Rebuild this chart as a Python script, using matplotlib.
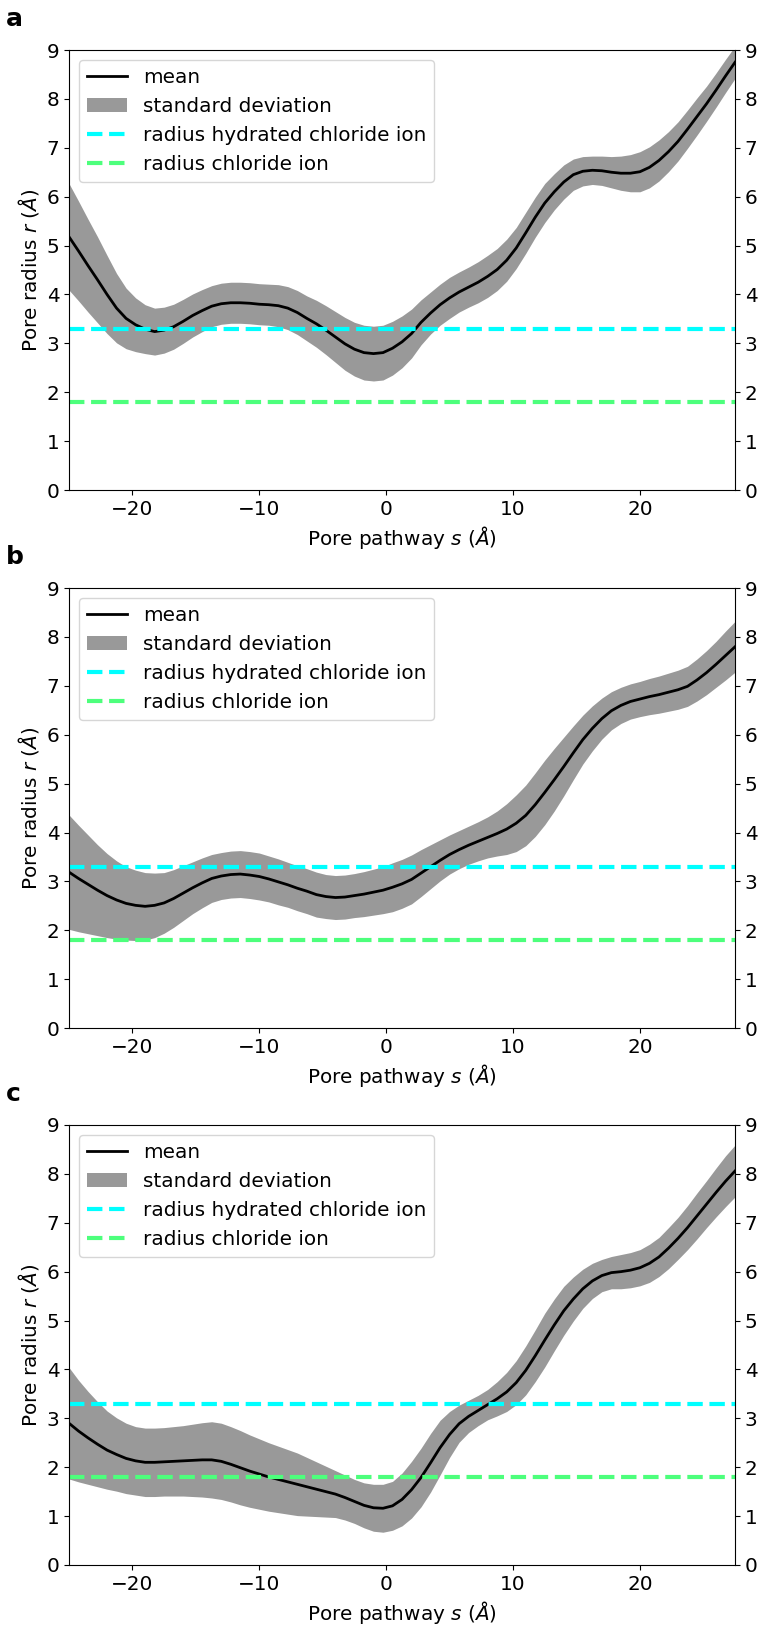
import numpy as np
import matplotlib
matplotlib.use("Agg")
import matplotlib.pyplot as plt

plt.rcParams["font.size"] = 14.4

# pore pathway coordinate s (Angstrom), sampled every 0.75 A, shared by all panels
s = [-25.0, -24.25, -23.5, -22.75, -22.0, -21.25, -20.5, -19.75, -19.0,
     -18.25, -17.5, -16.75, -16.0, -15.25, -14.5, -13.75, -13.0, -12.25,
     -11.5, -10.75, -10.0, -9.25, -8.5, -7.75, -7.0, -6.25, -5.5, -4.75,
     -4.0, -3.25, -2.5, -1.75, -1.0, -0.25, 0.5, 1.25, 2.0, 2.75, 3.5, 4.25,
     5.0, 5.75, 6.5, 7.25, 8.0, 8.75, 9.5, 10.25, 11.0, 11.75, 12.5, 13.25,
     14.0, 14.75, 15.5, 16.25, 17.0, 17.75, 18.5, 19.25, 20.0, 20.75, 21.5,
     22.25, 23.0, 23.75, 24.5, 25.25, 26.0, 26.75, 27.5]

mean_a = [5.18, 4.89, 4.59, 4.30, 4.00, 3.72, 3.51, 3.38, 3.29, 3.24, 3.27,
          3.34, 3.45, 3.57, 3.67, 3.76, 3.81, 3.83, 3.83, 3.82, 3.80, 3.79,
          3.77, 3.72, 3.63, 3.51, 3.40, 3.27, 3.13, 2.99, 2.88, 2.81, 2.79,
          2.81, 2.90, 3.03, 3.20, 3.43, 3.62, 3.79, 3.93, 4.05, 4.15, 4.25,
          4.37, 4.51, 4.70, 4.95, 5.26, 5.58, 5.87, 6.10, 6.30, 6.45, 6.52,
          6.54, 6.53, 6.50, 6.48, 6.48, 6.51, 6.60, 6.74, 6.92, 7.13, 7.38,
          7.64, 7.90, 8.18, 8.47, 8.75]
std_a = [1.09, 1.02, 0.95, 0.88, 0.80, 0.71, 0.62, 0.55, 0.50, 0.48, 0.47,
         0.46, 0.45, 0.44, 0.43, 0.42, 0.42, 0.42, 0.42, 0.42, 0.42, 0.42,
         0.43, 0.44, 0.45, 0.46, 0.48, 0.50, 0.52, 0.54, 0.55, 0.56, 0.56,
         0.56, 0.55, 0.53, 0.50, 0.46, 0.43, 0.42, 0.42, 0.41, 0.41, 0.42,
         0.43, 0.43, 0.43, 0.42, 0.42, 0.41, 0.40, 0.37, 0.35, 0.32, 0.30,
         0.29, 0.30, 0.32, 0.35, 0.38, 0.41, 0.42, 0.42, 0.41, 0.40, 0.39,
         0.38, 0.36, 0.35, 0.34, 0.33]

mean_b = [3.19, 3.06, 2.94, 2.82, 2.71, 2.62, 2.55, 2.51, 2.49, 2.51, 2.56,
          2.65, 2.76, 2.87, 2.97, 3.06, 3.11, 3.14, 3.15, 3.13, 3.10, 3.05,
          2.99, 2.93, 2.86, 2.80, 2.73, 2.69, 2.67, 2.68, 2.71, 2.74, 2.78,
          2.82, 2.88, 2.95, 3.04, 3.17, 3.30, 3.43, 3.55, 3.65, 3.74, 3.82,
          3.90, 3.98, 4.07, 4.19, 4.35, 4.57, 4.82, 5.08, 5.35, 5.63, 5.90,
          6.13, 6.33, 6.49, 6.60, 6.68, 6.73, 6.78, 6.82, 6.87, 6.92, 6.99,
          7.12, 7.27, 7.44, 7.62, 7.80]
std_b = [1.17, 1.09, 1.01, 0.93, 0.86, 0.80, 0.75, 0.72, 0.69, 0.66, 0.62,
         0.59, 0.56, 0.53, 0.51, 0.49, 0.48, 0.48, 0.48, 0.48, 0.48, 0.47,
         0.47, 0.46, 0.46, 0.46, 0.46, 0.45, 0.45, 0.45, 0.45, 0.46, 0.47,
         0.48, 0.50, 0.50, 0.50, 0.48, 0.45, 0.42, 0.40, 0.39, 0.39, 0.40,
         0.42, 0.46, 0.52, 0.58, 0.62, 0.65, 0.66, 0.64, 0.60, 0.55, 0.50,
         0.46, 0.42, 0.39, 0.37, 0.36, 0.36, 0.37, 0.38, 0.39, 0.40, 0.41,
         0.43, 0.45, 0.47, 0.50, 0.52]

mean_c = [2.90, 2.74, 2.60, 2.47, 2.35, 2.26, 2.18, 2.13, 2.10, 2.10, 2.11,
          2.12, 2.13, 2.14, 2.15, 2.15, 2.12, 2.06, 1.99, 1.92, 1.86, 1.80,
          1.75, 1.70, 1.65, 1.60, 1.55, 1.50, 1.45, 1.38, 1.30, 1.22, 1.17,
          1.16, 1.21, 1.34, 1.54, 1.79, 2.09, 2.40, 2.67, 2.89, 3.04, 3.16,
          3.28, 3.40, 3.54, 3.73, 3.98, 4.28, 4.60, 4.91, 5.20, 5.44, 5.65,
          5.81, 5.92, 5.98, 6.00, 6.03, 6.08, 6.17, 6.30, 6.48, 6.68, 6.90,
          7.14, 7.38, 7.62, 7.85, 8.06]
std_c = [1.14, 1.04, 0.95, 0.87, 0.80, 0.75, 0.72, 0.70, 0.70, 0.70, 0.70,
         0.71, 0.72, 0.74, 0.76, 0.78, 0.78, 0.77, 0.76, 0.74, 0.72, 0.70,
         0.68, 0.66, 0.64, 0.60, 0.56, 0.52, 0.48, 0.46, 0.45, 0.46, 0.48,
         0.49, 0.50, 0.54, 0.58, 0.60, 0.60, 0.56, 0.47, 0.38, 0.33, 0.31,
         0.31, 0.35, 0.40, 0.45, 0.50, 0.53, 0.55, 0.53, 0.50, 0.45, 0.40,
         0.36, 0.33, 0.33, 0.35, 0.36, 0.37, 0.39, 0.40, 0.42, 0.43, 0.45,
         0.47, 0.48, 0.50, 0.52, 0.53]

panels = ["a", "b", "c"]
R_HYDRATED = 3.3   # radius hydrated chloride ion
R_CHLORIDE = 1.8   # radius chloride ion

fig = plt.figure(figsize=(7.63, 16.29), dpi=100)
bottoms = [0.6992, 0.3689, 0.0393]
x = np.array(s)

for lab, bot, m, sd in zip(panels, bottoms, [mean_a, mean_b, mean_c],
                           [std_a, std_b, std_c]):
    ax = fig.add_axes([0.0904, bot, 0.873, 0.2701])
    m = np.array(m); sd = np.array(sd)
    ax.plot(x, m, color="k", lw=2, label="mean")
    ax.fill_between(x, m - sd, m + sd, color="gray", alpha=0.8, lw=0,
                    label="standard deviation")
    ax.axhline(R_HYDRATED, color="cyan", ls="--", lw=3,
               label="radius hydrated chloride ion")
    ax.axhline(R_CHLORIDE, color="#4dff7c", ls="--", lw=3,
               label="radius chloride ion")
    ax.set_xlim(-25, 27.5)
    ax.set_ylim(0, 9)
    ax.tick_params(right=True, labelright=True)
    ax.set_xlabel(r"Pore pathway $s$ ($Å$)")
    ax.set_ylabel(r"Pore radius $r$ ($Å$)")
    ax.legend(loc="upper left")
    fig.text(0.008, bot + 0.2701 + 0.019, lab, fontsize=18,
             fontweight="bold", va="center")

fig.savefig("out.png", dpi=100)
